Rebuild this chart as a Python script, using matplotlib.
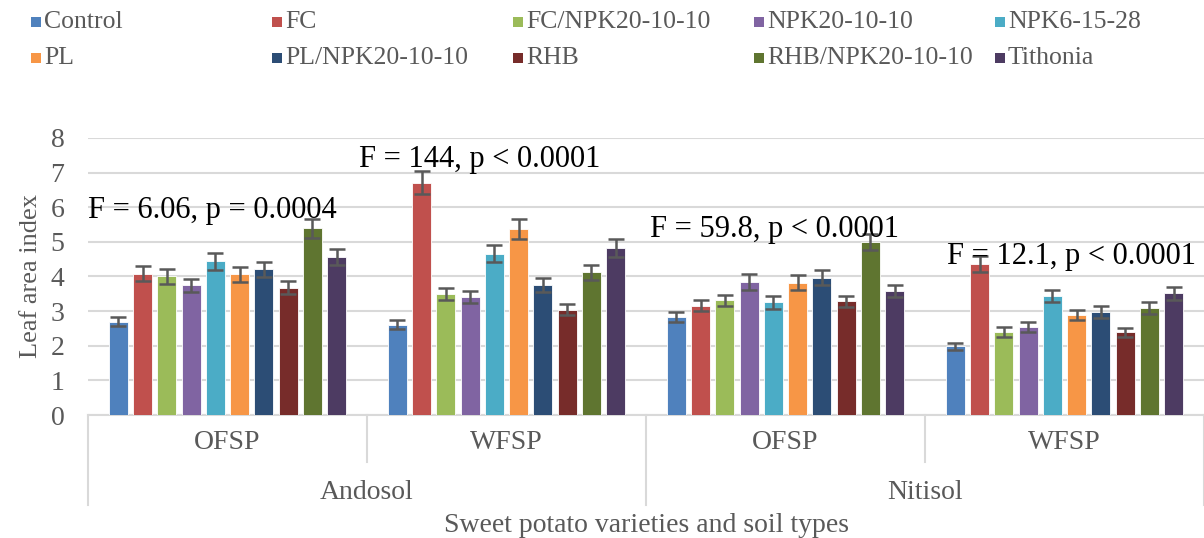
import numpy as np
import matplotlib.pyplot as plt
from matplotlib.patches import Rectangle

plt.rcParams['font.family'] = ['Liberation Serif', 'DejaVu Serif']

treatments = ['Control', 'FC', 'FC/NPK20-10-10', 'NPK20-10-10', 'NPK6-15-28',
              'PL', 'PL/NPK20-10-10', 'RHB', 'RHB/NPK20-10-10', 'Tithonia']
colors = ['#4F81BD', '#C0504D', '#9BBB59', '#8064A2', '#4BACC6',
          '#F79646', '#2C4D75', '#772C2A', '#5F7530', '#4D3B62']

varieties = ['OFSP', 'WFSP', 'OFSP', 'WFSP']
soils = ['Andosol', 'Nitisol']

# leaf area index per group (Andosol OFSP, Andosol WFSP, Nitisol OFSP, Nitisol WFSP)
lai = np.array([
    [2.70, 4.08, 4.00, 3.75, 4.44, 4.06, 4.21, 3.68, 5.39, 4.56],
    [2.61, 6.71, 3.49, 3.40, 4.66, 5.38, 3.75, 3.04, 4.12, 4.82],
    [2.83, 3.15, 3.31, 3.84, 3.25, 3.82, 3.97, 3.28, 5.00, 3.58],
    [1.98, 4.35, 2.39, 2.55, 3.43, 2.89, 2.97, 2.39, 3.08, 3.52],
])
err = np.array([
    [0.14, 0.21, 0.21, 0.19, 0.25, 0.21, 0.22, 0.20, 0.27, 0.23],
    [0.13, 0.34, 0.18, 0.18, 0.25, 0.29, 0.20, 0.16, 0.21, 0.25],
    [0.14, 0.16, 0.16, 0.22, 0.18, 0.22, 0.22, 0.16, 0.24, 0.18],
    [0.10, 0.23, 0.14, 0.14, 0.18, 0.15, 0.17, 0.13, 0.17, 0.19],
])

stats = ['F = 6.06, p = 0.0004', 'F = 144, p < 0.0001',
         'F = 59.8, p < 0.0001', 'F = 12.1, p < 0.0001']
stat_pos = [(0.0, 5.9), (0.973, 7.37), (2.014, 5.35), (3.08, 4.57)]

grey = '#595959'

fig = plt.figure(figsize=(12.04, 5.38), dpi=100)
ax = fig.add_axes([0.0731, 0.2286, 0.9269, 0.515])

pitch = 0.087
width = 0.068
for j, name in enumerate(treatments):
    x = np.arange(4) + 0.5 + (j - 4.5) * pitch
    ax.bar(x, lai[:, j], width=width, color=colors[j], edgecolor='white',
           linewidth=0.6, zorder=3, label=name)
    ax.errorbar(x, lai[:, j], yerr=err[:, j], fmt='none', ecolor=grey,
                elinewidth=1.8, capsize=6, capthick=1.8, zorder=4)

ax.set_xlim(0, 4)
ax.set_ylim(0, 8)
ax.set_yticks(range(0, 9))
ax.tick_params(axis='y', length=0, pad=17, labelsize=20, labelcolor=grey)
ax.set_xticks([])
ax.yaxis.grid(True, color='#D9D9D9', linewidth=1.5, zorder=0)
ax.set_axisbelow(True)
for s in ['left', 'right', 'top']:
    ax.spines[s].set_visible(False)
ax.spines['bottom'].set_color('#D9D9D9')
ax.spines['bottom'].set_linewidth(1.5)

ax.set_ylabel('Leaf area index', fontsize=19, color=grey, labelpad=6)

for txt, (tx, ty) in zip(stats, stat_pos):
    ax.text(tx, ty, txt, fontsize=22, va='center', ha='left', color='black',
            zorder=5, clip_on=False)

# category axis (two levels)
trans = ax.get_xaxis_transform()
for i, v in enumerate(varieties):
    ax.text(i + 0.5, -0.101, v, transform=trans, ha='center', va='center',
            fontsize=20, color=grey)
for i, s in enumerate(soils):
    ax.text(2 * i + 1, -0.278, s, transform=trans, ha='center', va='center',
            fontsize=20, color=grey)
for xb, yb in [(0, -0.325), (1, -0.17), (2, -0.325), (3, -0.17), (4, -0.325)]:
    ax.plot([xb, xb], [0, yb], transform=trans, color='#D9D9D9',
            linewidth=1.5, clip_on=False)
ax.text(2, -0.397, 'Sweet potato varieties and soil types', transform=trans,
        ha='center', va='center', fontsize=20, color=grey)

# legend laid out in Excel's even grid
for j, name in enumerate(treatments):
    row, col = divmod(j, 5)
    x0 = 31 + col * 241
    yc = 22 + row * 36
    fig.patches.append(Rectangle((x0 / 1204, 1 - (yc + 5) / 538), 10 / 1204,
                                 10 / 538, transform=fig.transFigure,
                                 facecolor=colors[j], edgecolor='none'))
    fig.text((x0 + 13) / 1204, 1 - yc / 538, name, fontsize=18.5, color=grey,
             va='center', ha='left')

fig.savefig('out.png', dpi=100)
